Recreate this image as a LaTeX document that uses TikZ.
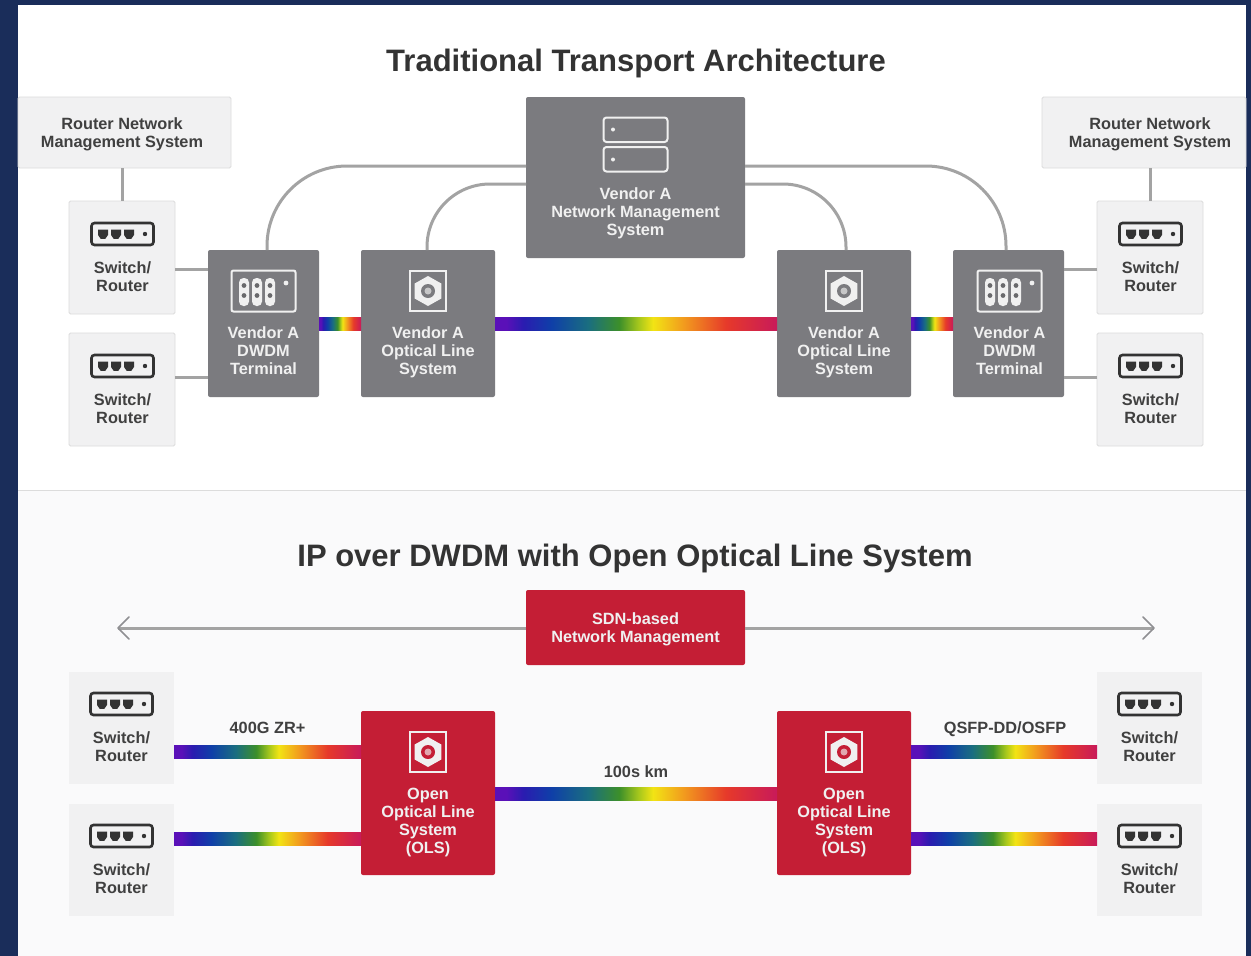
\documentclass[tikz,border=0pt]{standalone}
\usepackage{fontspec}
\setmainfont{Liberation Sans}
\usetikzlibrary{arrows.meta,calc,shapes.geometric}
\definecolor{navy}{HTML}{1A2D5A}
\definecolor{panel}{HTML}{FAFAFB}
\definecolor{lightbox}{HTML}{F1F1F2}
\definecolor{lightedge}{HTML}{DCDCDC}
\definecolor{slate}{HTML}{7B7B7F}
\definecolor{crimson}{HTML}{C41E35}
\definecolor{wire}{HTML}{A3A3A3}
\definecolor{ink}{HTML}{404040}
\definecolor{soft}{HTML}{F0F0F0}
\definecolor{rba}{HTML}{5A10B8}
\definecolor{rbb}{HTML}{2A1CB0}
\definecolor{rbc}{HTML}{0F3FA8}
\definecolor{rbd}{HTML}{1A6E80}
\definecolor{rbe}{HTML}{3C8F2A}
\definecolor{rbf}{HTML}{A8C81C}
\definecolor{rbg}{HTML}{F2E414}
\definecolor{rbh}{HTML}{F29A1E}
\definecolor{rbi}{HTML}{E6392A}
\definecolor{rbj}{HTML}{C81A5A}
\pgfdeclarehorizontalshading{rainbow}{100bp}{
 color(0bp)=(rba); color(27bp)=(rba);
 color(30bp)=(rbb); color(35bp)=(rbc);
 color(41.5bp)=(rbd); color(47bp)=(rbe);
 color(50.5bp)=(rbf); color(53bp)=(rbg);
 color(58.5bp)=(rbh); color(66bp)=(rbi);
 color(75bp)=(rbj); color(100bp)=(rbj)}
\tikzset{
 gbox/.style={draw=lightedge,fill=lightbox,line width=.8pt,rounded corners=1.5pt,inner sep=0pt,outer sep=0pt},
 pbox/.style={fill=lightbox,inner sep=0pt,outer sep=0pt},
 sbox/.style={fill=slate,rounded corners=2pt,inner sep=0pt,outer sep=0pt},
 rbox/.style={fill=crimson,rounded corners=2pt,inner sep=0pt,outer sep=0pt},
 wirestyle/.style={draw=wire,line width=3pt},
 wtxt/.style={text=soft,font=\fontsize{16.3}{18}\selectfont\bfseries,align=center,inner sep=0pt,execute at begin node=\strut,execute at end node=\strut},
 dtxt/.style={text=ink,font=\fontsize{16.3}{18}\selectfont\bfseries,align=center,inner sep=0pt,execute at begin node=\strut,execute at end node=\strut},
 ttxt/.style={text=ink!80!black,font=\fontsize{31}{34}\selectfont\bfseries,inner sep=0pt},
 bar/.style={shading=rainbow,draw=none},
 pics/swicon/.style={code={
   \draw[draw=ink!80!black,line width=2.6pt,rounded corners=3pt] (-31,-11) rectangle (31,11);
   \foreach \a in {-19.5,-6.5,6.5}{
     \fill[ink!80!black] (\a-5,-4.5) -- (\a+5,-4.5) -- (\a+5,1) -- (\a+2.3,4.8) -- (\a-2.3,4.8) -- (\a-5,1) -- cycle;}
   \fill[ink!80!black] (22.5,0) circle (2.2pt);
 }},
 pics/ddicon/.style={code={
   \draw[draw=soft,line width=2pt,rounded corners=2pt] (-32,-20.5) rectangle (32,20.5);
   \foreach \a in {-19.5,-6.5,6.5}{
     \fill[soft,rounded corners=4.5pt] (\a-5,-13) rectangle (\a+5,15);
     \foreach \b in {-5.5,4.5}{\fill[slate!85!black] (\a,\b) circle (2.4pt);}
   }
   \fill[soft] (22.5,-8) circle (2.4pt);
 }},
 pics/olsicon/.style={code={
   \draw[draw=soft,line width=2pt] (-18,-20) rectangle (18,20);
   \fill[soft] (0,-15) -- (13.3,-7.5) -- (13.3,7.5) -- (0,15) -- (-13.3,7.5) -- (-13.3,-7.5) -- cycle;
   \fill[#1] (0,0) circle (7pt);
   \fill[soft!65!#1] (0,0) circle (3.5pt);
 }},
 pics/srvicon/.style={code={
   \draw[draw=soft,line width=2pt,rounded corners=3pt] (-32,-27) rectangle (32,-2.5);
   \draw[draw=soft,line width=2pt,rounded corners=3pt] (-32,2.5) rectangle (32,27);
   \fill[soft] (-22.5,-15) circle (2pt);
   \fill[soft] (-22.5,15) circle (2pt);
 }}
}
\begin{document}
\begin{tikzpicture}[x=1pt,y=-1pt]
\useasboundingbox (0,0) rectangle (1251,956);
\fill[navy] (0,0) rectangle (1251,956);
\fill[white] (18,5) rectangle (1246,490);
\fill[panel] (18,490) rectangle (1246,956);
\draw[lightedge,line width=.8pt] (18,490.5) -- (1246,490.5);

% titles
\node[ttxt] (title1) at (636,63) {Traditional Transport Architecture};
\node[ttxt] (title2) at (635,558) {IP over DWDM with Open Optical Line System};

% upper boxes
\node[gbox,minimum width=213pt,minimum height=71pt] (rnl) at (124.5,132.5) {};
\node[gbox,minimum width=204pt,minimum height=71pt] (rnr) at (1144,132.5) {};
\node[dtxt] (rnlt) at (122,135) {Router Network\\Management System};
\node[dtxt] (rnrt) at (1150,135) {Router Network\\Management System};

\node[gbox,minimum width=106pt,minimum height=113pt] (swa) at (122,257.5) {};
\node[gbox,minimum width=106pt,minimum height=113pt] (swb) at (122,389.5) {};
\node[gbox,minimum width=106pt,minimum height=113pt] (swc) at (1150,257.5) {};
\node[gbox,minimum width=106pt,minimum height=113pt] (swd) at (1150,389.5) {};

\node[sbox,minimum width=111pt,minimum height=147pt] (tl) at (263.5,323.5) {};
\node[sbox,minimum width=134pt,minimum height=147pt] (ol) at (428,323.5) {};
\node[sbox,minimum width=134pt,minimum height=147pt] (or) at (844,323.5) {};
\node[sbox,minimum width=111pt,minimum height=147pt] (tr) at (1008.5,323.5) {};
\node[sbox,minimum width=219pt,minimum height=161pt] (nms) at (635.5,177.5) {};

% upper connectors
\draw[wirestyle] (rnl.south -| swa.north) -- (swa.north);
\draw[wirestyle] (rnr.south -| swc.north) -- (swc.north);
\draw[wirestyle] ([yshift=-12pt]swa.east) -- ([yshift=-12pt]swa.east -| tl.west);
\draw[wirestyle] ([yshift=12pt]swb.east) -- ([yshift=12pt]swb.east -| tl.west);
\draw[wirestyle] ([yshift=-12pt]swc.west) -- ([yshift=-12pt]swc.west -| tr.east);
\draw[wirestyle] ([yshift=12pt]swd.west) -- ([yshift=12pt]swd.west -| tr.east);
\draw[wirestyle,rounded corners=80pt] ([xshift=3.5pt]tl.north) |- (nms.west |- 0,166);
\draw[wirestyle,rounded corners=63pt] ([xshift=-1pt]ol.north) |- (nms.west |- 0,184);
\draw[wirestyle,rounded corners=80pt] ([xshift=-2.5pt]tr.north) |- (nms.east |- 0,166);
\draw[wirestyle,rounded corners=63pt] ([xshift=2pt]or.north) |- (nms.east |- 0,184);

% upper rainbow links
\path[bar] (tl.east |- 0,317) rectangle (ol.west |- 0,330);
\path[bar] (ol.east |- 0,317) rectangle (or.west |- 0,330);
\path[bar] (or.east |- 0,317) rectangle (tr.west |- 0,330);

% upper icons and labels
\pic at (122.5,234) {swicon};
\pic at (122.5,366) {swicon};
\pic at (1150.5,234) {swicon};
\pic at (1150.5,366) {swicon};
\node[dtxt] (swat) at (122.5,279) {Switch/\\Router};
\node[dtxt] (swbt) at (122.5,411) {Switch/\\Router};
\node[dtxt] (swct) at (1150.5,279) {Switch/\\Router};
\node[dtxt] (swdt) at (1150.5,411) {Switch/\\Router};

\pic at (263.5,291) {ddicon};
\pic at (1009.5,291) {ddicon};
\pic at (428,291) {olsicon=slate};
\pic at (844,291) {olsicon=slate};
\pic at (635.5,144.5) {srvicon};
\node[wtxt] (tlt) at (263.5,353) {Vendor A\\DWDM\\Terminal};
\node[wtxt] (olt) at (428,353) {Vendor A\\Optical Line\\System};
\node[wtxt] (ort) at (844,353) {Vendor A\\Optical Line\\System};
\node[wtxt] (trt) at (1009.5,353) {Vendor A\\DWDM\\Terminal};
\node[wtxt] (nmst) at (635.5,214) {Vendor A\\Network Management\\System};

% lower section
\node[rbox,minimum width=219pt,minimum height=75pt] (sdn) at (635.5,627.5) {};
\node[wtxt] (sdnt) at (635.5,630) {SDN-based\\Network Management};
\coordinate (al) at (118,628);
\coordinate (ar) at (1154,628);
\draw[wire,line width=3pt] (sdn.west |- al) -- (al);
\draw[wire,line width=3pt] (sdn.east |- ar) -- (ar);
\draw[draw=slate!85,line width=1.6pt,line cap=round,line join=round] (129,617) -- (al) -- (129,639);
\draw[draw=slate!85,line width=1.6pt,line cap=round,line join=round] (1143,617) -- (ar) -- (1143,639);

\node[pbox,minimum width=105pt,minimum height=112pt] (swe) at (121.5,728) {};
\node[pbox,minimum width=105pt,minimum height=112pt] (swf) at (121.5,860) {};
\node[pbox,minimum width=105pt,minimum height=112pt] (swg) at (1149.5,728) {};
\node[pbox,minimum width=105pt,minimum height=112pt] (swh) at (1149.5,860) {};
\node[rbox,minimum width=134pt,minimum height=164pt] (oa) at (428,793) {};
\node[rbox,minimum width=134pt,minimum height=164pt] (ob) at (844,793) {};

\path[bar] (swe.east |- 0,745) rectangle (oa.west |- 0,758);
\path[bar] (swf.east |- 0,832) rectangle (oa.west |- 0,845);
\path[bar] (oa.east |- 0,787) rectangle (ob.west |- 0,800);
\path[bar] (ob.east |- 0,745) rectangle (swg.west |- 0,758);
\path[bar] (ob.east |- 0,832) rectangle (swh.west |- 0,845);

\pic at (121.5,704) {swicon};
\pic at (121.5,836) {swicon};
\pic at (1149.5,704) {swicon};
\pic at (1149.5,836) {swicon};
\node[dtxt] (swet) at (121.5,749) {Switch/\\Router};
\node[dtxt] (swft) at (121.5,881) {Switch/\\Router};
\node[dtxt] (swgt) at (1149.5,749) {Switch/\\Router};
\node[dtxt] (swht) at (1149.5,881) {Switch/\\Router};
\pic at (428,752) {olsicon=crimson};
\pic at (844,752) {olsicon=crimson};
\node[wtxt] (oat) at (428,823) {Open\\Optical Line\\System\\(OLS)};
\node[wtxt] (obt) at (844,823) {Open\\Optical Line\\System\\(OLS)};
\node[dtxt] (zr) at (267.5,730) {400G ZR+};
\node[dtxt] (km) at (636,774) {100s km};
\node[dtxt] (qs) at (1005,730) {QSFP-DD/OSFP};
\end{tikzpicture}
\end{document}
